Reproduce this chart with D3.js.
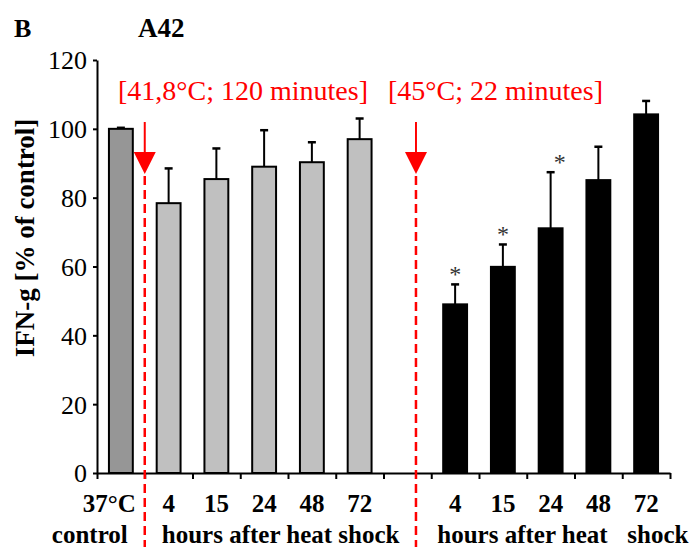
<!DOCTYPE html>
<html>
<head>
<meta charset="utf-8">
<script src="https://cdn.jsdelivr.net/npm/d3@7"></script>
<style>
  body { margin: 0; background: #fff; }
  text { font-family: "Liberation Serif", "Times New Roman", serif; }
</style>
</head>
<body>
<div id="chart"></div>
<script>
(function () {
  // slots on the x axis ('gap' is the empty slot between the two treatments)
  var slots = ['ctrl', 'a4', 'a15', 'a24', 'a48', 'a72', 'gap', 'b4', 'b15', 'b24', 'b48', 'b72']
  var tickLabels = ['37°C', '4', '15', '24', '48', '72', '', '4', '15', '24', '48', '72']
  var means = [100, 78.4, 85.4, 89.0, 90.3, 97.0, null, 49.0, 59.9, 71.1, 85.1, 104.2]
  var errors = [0.3, 10.1, 8.9, 10.6, 5.8, 6.0, null, 5.8, 6.5, 16.3, 9.7, 3.9]
  var groups = ['control', 'mild', 'mild', 'mild', 'mild', 'mild', null, 'hot', 'hot', 'hot', 'hot', 'hot']
  var significant = [false, false, false, false, false, false, false, true, true, true, false, false]
  var yTicks = [0, 20, 40, 60, 80, 100, 120]
  var treatments = ['[41,8°C; 120 minutes]', '[45°C; 22 minutes]']

  var fills = {control: '#969696', mild: '#c0c0c0', hot: '#000000'}
  var serif = '"Liberation Serif", "Times New Roman", serif'

  var width = 689, height = 547
  var svg = d3.select('#chart').append('svg')
    .attr('width', width)
    .attr('height', height)

  var x = d3.scaleBand().domain(slots).range([97, 670]).padding(0)
  var edges = d3.scaleLinear().domain([0, slots.length]).range([97, 670])
  var y = d3.scaleLinear().domain([0, 120]).range([473, 60])
  var barW = x.bandwidth() * 0.5

  var data = slots.map(function (s, i) {
    return {slot: s, i: i, label: tickLabels[i], mean: means[i], err: errors[i], group: groups[i], sig: significant[i]}
  })
  var bars = data.filter(function (d) { return d.mean !== null })

  // headings
  svg.append('text').attr('x', 14).attr('y', 37)
    .attr('font-size', '26px').attr('font-weight', 'bold').text('B')
  svg.append('text').attr('x', 138).attr('y', 37)
    .attr('font-size', '27px').attr('font-weight', 'bold').text('A42')

  // y axis
  var yAxis = svg.append('g')
    .attr('transform', 'translate(97,0)')
    .call(d3.axisLeft(y).tickValues(yTicks).tickSize(4).tickSizeOuter(0).tickPadding(6))
  yAxis.attr('font-size', 26).attr('font-family', serif)
  yAxis.select('.domain').attr('stroke-width', 2)
  yAxis.selectAll('.tick line').attr('stroke-width', 2)
  yAxis.selectAll('.tick text')
    .attr('font-size', 26).attr('fill', '#000').attr('dy', '0.34em')

  svg.append('text')
    .attr('transform', 'translate(34,238) rotate(-90)')
    .attr('text-anchor', 'middle')
    .attr('font-size', '27px').attr('font-weight', 'bold')
    .text('IFN-g [% of control]')

  // bars
  svg.selectAll('rect.bar')
    .data(bars)
    .enter().append('rect')
    .attr('class', 'bar')
    .attr('x', function (d) { return x(d.slot) + (x.bandwidth() - barW) / 2 })
    .attr('y', function (d) { return y(d.mean) })
    .attr('width', barW)
    .attr('height', function (d) { return y(0) - y(d.mean) })
    .attr('fill', function (d) { return fills[d.group] })
    .attr('stroke', '#000')
    .attr('stroke-width', 2)

  // error bars (upper only)
  var err = svg.selectAll('g.err')
    .data(bars)
    .enter().append('g')
    .attr('class', 'err')
  err.append('line')
    .attr('x1', function (d) { return x(d.slot) + x.bandwidth() / 2 })
    .attr('x2', function (d) { return x(d.slot) + x.bandwidth() / 2 })
    .attr('y1', function (d) { return y(d.mean) })
    .attr('y2', function (d) { return y(d.mean + d.err) })
    .attr('stroke', '#000').attr('stroke-width', 2)
  err.append('line')
    .attr('x1', function (d) { return x(d.slot) + x.bandwidth() / 2 - 4 })
    .attr('x2', function (d) { return x(d.slot) + x.bandwidth() / 2 + 4 })
    .attr('y1', function (d) { return y(d.mean + d.err) })
    .attr('y2', function (d) { return y(d.mean + d.err) })
    .attr('stroke', '#000').attr('stroke-width', 2.5)

  // significance stars
  svg.selectAll('text.star')
    .data(bars.filter(function (d) { return d.sig }))
    .enter().append('text')
    .attr('class', 'star')
    .attr('x', function (d, i) { return x(d.slot) + x.bandwidth() / 2 + (i === 2 ? 9 : 0) })
    .attr('y', function (d) { return y(d.mean + d.err) - 2 })
    .attr('text-anchor', 'middle')
    .attr('font-size', '24px')
    .attr('fill', '#333')
    .text('*')

  // x axis: line and ticks at slot edges
  var xAxis = svg.append('g')
    .attr('transform', 'translate(0,' + y(0) + ')')
    .call(d3.axisBottom(edges).tickValues(d3.range(slots.length + 1)).tickFormat('').tickSize(6).tickSizeOuter(0))
  xAxis.select('.domain').attr('stroke-width', 2)
  xAxis.selectAll('.tick line').attr('stroke-width', 2)

  // x tick labels
  svg.selectAll('text.xlab')
    .data(data.filter(function (d) { return d.label !== '' }))
    .enter().append('text')
    .attr('class', 'xlab')
    .attr('x', function (d) { return d.i === 0 ? x(d.slot) + x.bandwidth() - 9 : x(d.slot) + x.bandwidth() / 2 })
    .attr('y', 512)
    .attr('text-anchor', function (d) { return d.i === 0 ? 'end' : 'middle' })
    .attr('font-size', '25px').attr('font-weight', 'bold')
    .text(function (d) { return d.label })

  // second row
  var row2 = [
    {text: 'control', x: x('ctrl') + x.bandwidth() - 17, anchor: 'end'},
    {text: 'hours after heat shock', x: x('a4') + 17, anchor: 'start'},
    {text: 'hours after heat', x: x('b4') + 6, anchor: 'start'},
    {text: 'shock', x: x('b72') + 5, anchor: 'start'}
  ]
  svg.selectAll('text.row2')
    .data(row2)
    .enter().append('text')
    .attr('class', 'row2')
    .attr('x', function (d) { return d.x })
    .attr('y', 543)
    .attr('text-anchor', function (d) { return d.anchor })
    .attr('font-size', '25px').attr('font-weight', 'bold')
    .text(function (d) { return d.text })

  // treatment markers
  var markers = [
    {text: treatments[0], tx: 118, x: x('a4')},
    {text: treatments[1], tx: 388, x: x('gap') + x.bandwidth() * 0.68}
  ]
  var m = svg.selectAll('g.marker')
    .data(markers)
    .enter().append('g')
    .attr('class', 'marker')
  m.append('text')
    .attr('x', function (d) { return d.tx })
    .attr('y', 100)
    .attr('font-size', '28px')
    .attr('fill', '#ff0000')
    .text(function (d) { return d.text })
  m.append('line')
    .attr('x1', function (d) { return d.x }).attr('x2', function (d) { return d.x })
    .attr('y1', 122).attr('y2', 155)
    .attr('stroke', '#ff0000').attr('stroke-width', 2)
  m.append('path')
    .attr('d', function (d) { return 'M' + (d.x - 11) + ',152L' + (d.x + 11) + ',152L' + d.x + ',174Z' })
    .attr('fill', '#ff0000')
  m.append('line')
    .attr('x1', function (d) { return d.x }).attr('x2', function (d) { return d.x })
    .attr('y1', 176).attr('y2', height)
    .attr('stroke', '#ff0000').attr('stroke-width', 2.5)
    .attr('stroke-dasharray', '9,5')
})()
</script>
</body>
</html>
